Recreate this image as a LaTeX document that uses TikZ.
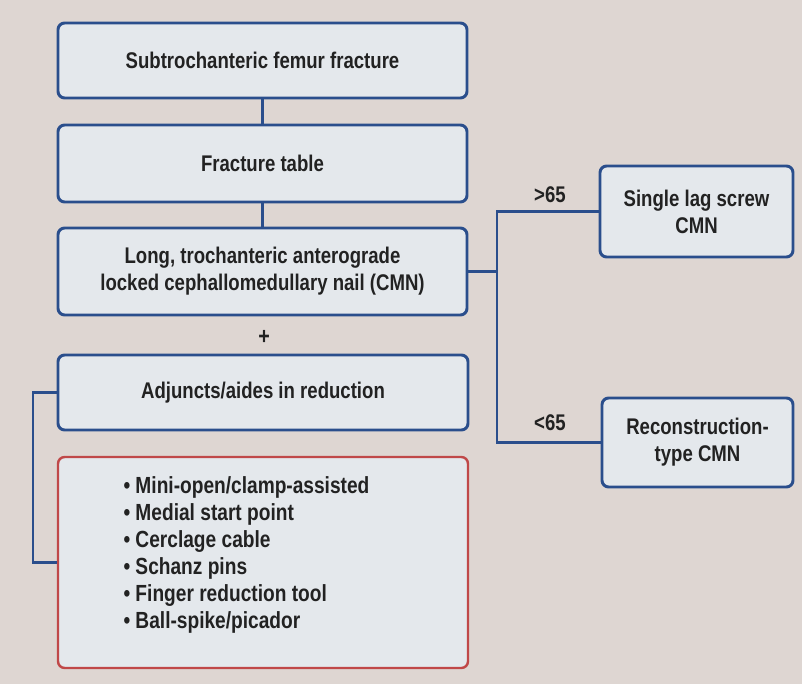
\documentclass[tikz,border=0pt]{standalone}
\usepackage{fontspec}
\setmainfont{Liberation Sans}[FakeStretch=0.82]
\definecolor{pagebg}{RGB}{222,214,210}
\definecolor{boxfill}{RGB}{228,232,236}
\definecolor{boxblue}{RGB}{42,78,140}
\definecolor{boxred}{RGB}{192,72,72}
\definecolor{inkdark}{RGB}{34,34,34}

\tikzset{every picture/.style={line width=0.75pt}}
\tikzset{
  flowbox/.style={draw=boxblue, fill=boxfill, line width=2.2pt, rounded corners=5pt,
    align=center, inner sep=0pt, text=inkdark, font=\bfseries\fontsize{17}{20.25}\selectfont},
  listbox/.style={flowbox, draw=boxred, line width=1.8pt},
  link/.style={draw=boxblue, line width=1.7pt},
  agelabel/.style={inner sep=0.75pt, text=inkdark, font=\bfseries\fontsize{17}{19}\selectfont}
}

\begin{document}
\begin{tikzpicture}[x=0.75pt,y=0.75pt,yscale=-1,xscale=1]
%page background, sets diagram size 802 x 684
\fill [pagebg] (0,0) rectangle (802,684);

%Shape: Rounded Rectangle [id:femur]
\node (femur) at (262.5,60.5) [flowbox, minimum width=306.75pt, minimum height=56.25pt] {Subtrochanteric femur fracture};
%Shape: Rounded Rectangle [id:table]
\node (table) at (262.5,163.5) [flowbox, minimum width=306.75pt, minimum height=57.75pt] {Fracture table};
%Shape: Rounded Rectangle [id:nail]
\node (nail) at (262.5,271.5) [flowbox, minimum width=306.75pt, minimum height=65.25pt] {Long, trochanteric anterograde\\locked cephallomedullary nail (CMN)};
% Text Node
\node (plus) at (264,337) [agelabel, font=\bfseries\fontsize{18}{19}\selectfont] {+};
%Shape: Rounded Rectangle [id:adjuncts]
\node (adjuncts) at (263,392.5) [flowbox, minimum width=307.5pt, minimum height=56.25pt] {Adjuncts/aides in reduction};
%Shape: Rounded Rectangle [id:aides]
\node (aides) at (263,562.5) [listbox, minimum width=307.5pt, minimum height=158.25pt] {};
% Text Node
\node (aidlist) at (123,555) [anchor=west, inner sep=0pt, align=left, text=inkdark, font=\bfseries\fontsize{17.5}{20.25}\selectfont]
  {\textbullet\ Mini-open/clamp-assisted\\
   \textbullet\ Medial start point\\
   \textbullet\ Cerclage cable\\
   \textbullet\ Schanz pins\\
   \textbullet\ Finger reduction tool\\
   \textbullet\ Ball-spike/picador};
%Shape: Rounded Rectangle [id:single]
\node (single) at (696.5,211.5) [flowbox, minimum width=144.75pt, minimum height=68.25pt] {Single lag screw\\CMN};
%Shape: Rounded Rectangle [id:recon]
\node (recon) at (697.5,442.5) [flowbox, minimum width=143.25pt, minimum height=66.75pt] {Reconstruction-\\type CMN};

%Straight Lines [id:femur-table-nail]
\draw [link] (femur) -- (table);
\draw [link] (table) -- (nail);
%Straight Lines [id:age split]
\coordinate (split) at (497,271.5);
\draw [link] (nail.east) -- (split);
\draw [link] (single.west) -| (split) |- (recon.west);
% Text Node
\node (older) at (550,195) [agelabel] {>65};
% Text Node
\node (younger) at (550,423) [agelabel] {<65};
%Straight Lines [id:adjunct bracket]
\coordinate (bracket) at (33,392.5);
\draw [link] (adjuncts.west) -- (bracket) |- (aides.west);

\end{tikzpicture}
\end{document}
